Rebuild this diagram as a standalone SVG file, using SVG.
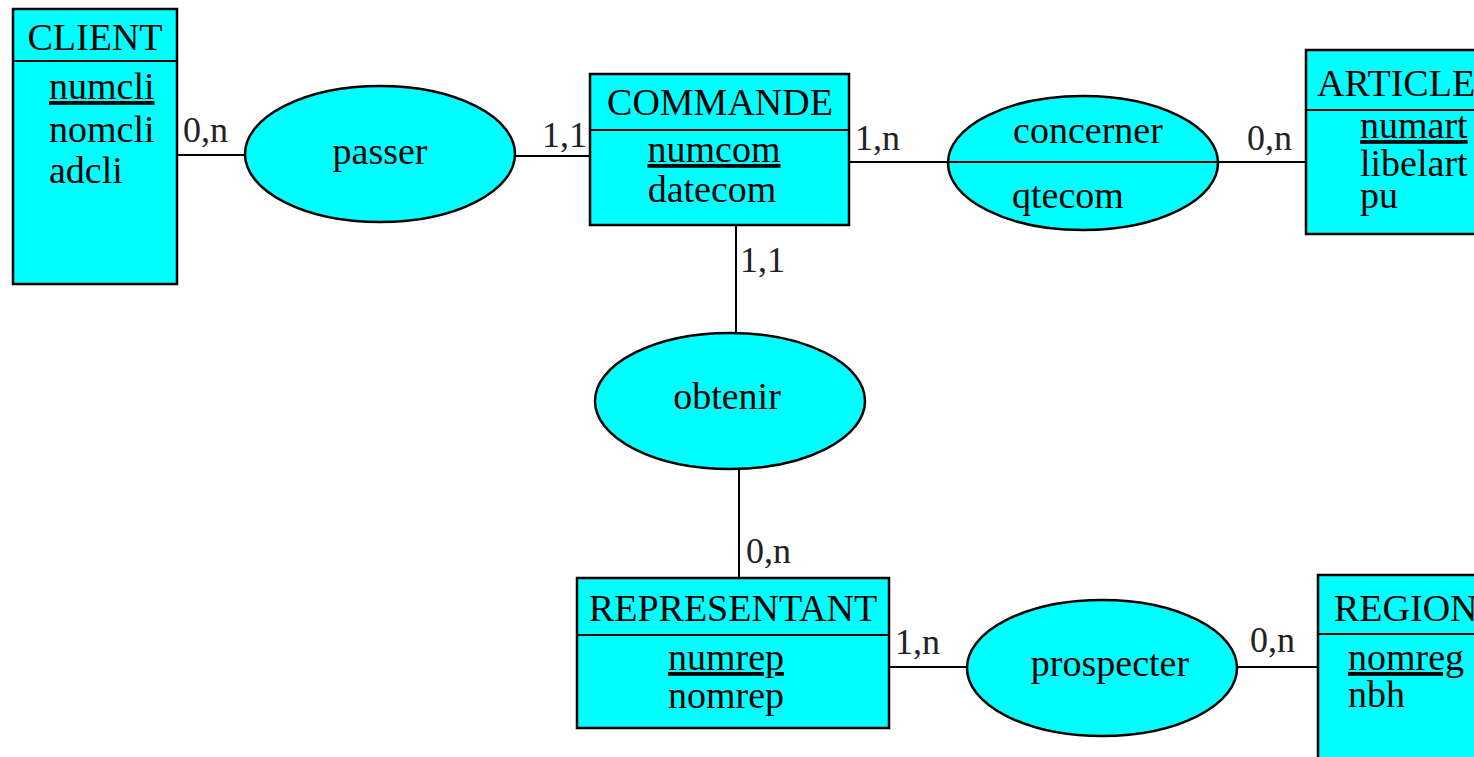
<svg xmlns="http://www.w3.org/2000/svg" width="1474" height="757" viewBox="0 0 1474 757">
<style>
.box{fill:#00ffff;stroke:#000;stroke-width:2.5}
.ell{fill:#00ffff;stroke:#000;stroke-width:2.5}
.ln{stroke:#000;stroke-width:2;fill:none}
text{font-family:"Liberation Serif","Times New Roman",serif;font-size:38px;fill:#000}
.c{text-anchor:middle}
.card{font-family:"Liberation Serif",serif;font-size:36px;fill:#222}
.u{text-decoration:underline}
</style>
<rect width="1474" height="757" fill="#fff"/>
<g id="connectors">
<line class="ln" x1="177" y1="155" x2="246" y2="155"/>
<line class="ln" x1="515" y1="156" x2="590" y2="156"/>
<line class="ln" x1="849" y1="162" x2="1306" y2="162"/>
<line class="ln" x1="736" y1="225" x2="736" y2="334"/>
<line class="ln" x1="739" y1="469" x2="739" y2="578"/>
<line class="ln" x1="889" y1="667" x2="1318" y2="667"/>
<text class="card" x="183" y="142">0,n</text>
<text class="card" x="542" y="147">1,1</text>
<text class="card" x="855" y="150">1,n</text>
<text class="card" x="1247" y="150">0,n</text>
<text class="card" x="740" y="272">1,1</text>
<text class="card" x="746" y="563">0,n</text>
<text class="card" x="895" y="654">1,n</text>
<text class="card" x="1250" y="652">0,n</text>
</g>
<g id="CLIENT">
<rect class="box" x="13" y="9" width="164" height="275"/>
<line class="ln" x1="13" y1="61" x2="177" y2="61" stroke-width="2.5"/>
<text class="c" x="95" y="50">CLIENT</text>
<text class="u" x="49" y="99">numcli</text>
<text x="49" y="142">nomcli</text>
<text x="49" y="183">adcli</text>
</g>
<g id="passer">
<ellipse class="ell" cx="380" cy="154" rx="135" ry="68"/>
<text class="c" x="380" y="164">passer</text>
</g>
<g id="COMMANDE">
<rect class="box" x="590" y="74" width="259" height="151"/>
<line class="ln" x1="590" y1="130" x2="849" y2="130" stroke-width="2.5"/>
<text class="c" x="720" y="115">COMMANDE</text>
<text class="c u" x="714" y="162">numcom</text>
<text class="c" x="712" y="202">datecom</text>
</g>
<g id="concerner">
<ellipse class="ell" cx="1083" cy="163" rx="135" ry="67"/>
<line class="ln" x1="948" y1="162" x2="1218" y2="162"/>
<text class="c" x="1088" y="143">concerner</text>
<text class="c" x="1068" y="208">qtecom</text>
</g>
<g id="ARTICLE">
<rect class="box" x="1306" y="50" width="180" height="184"/>
<line class="ln" x1="1306" y1="110" x2="1486" y2="110" stroke-width="2.5"/>
<text x="1317" y="96">ARTICLE</text>
<text class="u" x="1360" y="138">numart</text>
<text x="1360" y="176">libelart</text>
<text x="1360" y="208">pu</text>
</g>
<g id="obtenir">
<ellipse class="ell" cx="730" cy="401" rx="135" ry="68"/>
<text class="c" x="727" y="409">obtenir</text>
</g>
<g id="REPRESENTANT">
<rect class="box" x="577" y="578" width="312" height="150"/>
<line class="ln" x1="577" y1="635" x2="889" y2="635" stroke-width="2.5"/>
<text class="c" x="733" y="621">REPRESENTANT</text>
<text class="c u" x="726" y="670">numrep</text>
<text class="c" x="726" y="708">nomrep</text>
</g>
<g id="prospecter">
<ellipse class="ell" cx="1102" cy="668" rx="135" ry="68"/>
<text class="c" x="1110" y="676">prospecter</text>
</g>
<g id="REGION">
<rect class="box" x="1318" y="575" width="170" height="200"/>
<line class="ln" x1="1318" y1="634" x2="1488" y2="634" stroke-width="2.5"/>
<text x="1334" y="621">REGION</text>
<text class="u" x="1348" y="670">nomreg</text>
<text x="1348" y="707">nbh</text>
</g>
</svg>
